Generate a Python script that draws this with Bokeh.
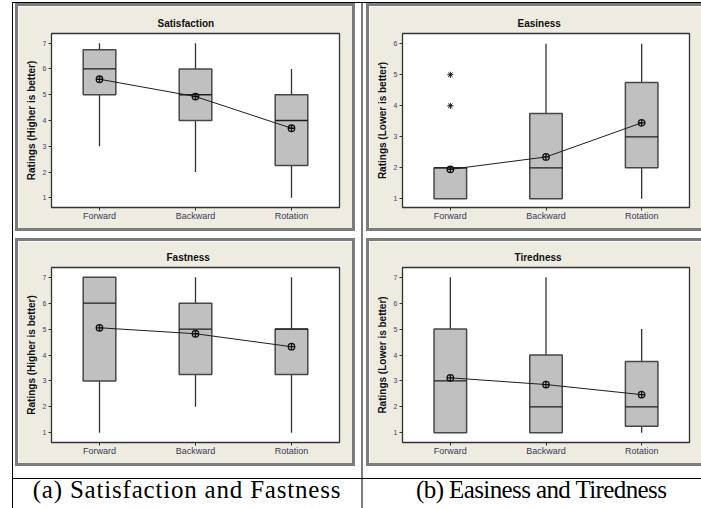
from bokeh.plotting import figure
from bokeh.models import ColumnDataSource, FixedTicker, Div, Spacer, Range1d
from bokeh.layouts import row, column
from bokeh.embed import file_html
from bokeh.resources import INLINE

categories = ["Forward", "Backward", "Rotation"]

sat_low = [3, 2, 1]
sat_q1 = [5, 4, 2.25]
sat_med = [6, 5, 4]
sat_q3 = [6.75, 6, 5]
sat_high = [7, 7, 6]
sat_mean = [5.6, 4.93, 3.7]

eas_low = [1, 1, 1]
eas_q1 = [1, 1, 2]
eas_med = [2, 2, 3]
eas_q3 = [2, 3.75, 4.75]
eas_high = [2, 6, 6]
eas_mean = [1.95, 2.35, 3.45]
eas_outlier_cat = ["Forward", "Forward"]
eas_outlier_val = [4, 5]

fas_low = [1, 2, 1]
fas_q1 = [3, 3.25, 3.25]
fas_med = [6, 5, 5]
fas_q3 = [7, 6, 5]
fas_high = [7, 7, 7]
fas_mean = [5.05, 4.82, 4.32]

tir_low = [1, 1, 1]
tir_q1 = [1, 1, 1.25]
tir_med = [3, 2, 2]
tir_q3 = [5, 4, 3.75]
tir_high = [7, 7, 5]
tir_mean = [3.12, 2.86, 2.47]

ticks_1_7 = [1, 2, 3, 4, 5, 6, 7]
ticks_1_6 = [1, 2, 3, 4, 5, 6]

titles = ["Satisfaction", "Easiness", "Fastness", "Tiredness"]
ylabels = ["Ratings (Higher is better)", "Ratings (Lower is better)",
           "Ratings (Higher is better)", "Ratings (Lower is better)"]
captions = ["(a) Satisfaction and Fastness", "(b) Easiness and Tiredness"]

BEIGE = "#EEEBE1"
FRAME = "#7c7c7c"
SANS = "Liberation Sans"


def panel(title, ylabel, low, q1, med, q3, high, mean, ticks, y0, y1,
          w, h, bl, br, bt, bb, title_off, out_cat=None, out_val=None):
    p = figure(x_range=categories, y_range=Range1d(y0, y1), width=w, height=h,
               output_backend="svg", toolbar_location=None,
               min_border_left=bl, min_border_right=br,
               min_border_top=bt, min_border_bottom=bb,
               background_fill_color="white", border_fill_color=BEIGE,
               outline_line_color="#333333", outline_line_width=1.3,
               title=title)
    p.title.align = "left"
    p.title.offset = title_off
    p.title.standoff = 9
    p.title.text_font = SANS
    p.title.text_font_size = "10px"
    p.title.text_font_style = "bold"
    p.title.text_color = "#111111"

    src = ColumnDataSource(dict(
        cat=categories, low=low, q1=q1, med=med, q3=q3, high=high, mean=mean,
        ml=[(c, -0.17) for c in categories], mr=[(c, 0.17) for c in categories]))

    p.segment(x0="cat", y0="low", x1="cat", y1="q1", source=src,
              line_color="#333333", line_width=1.3)
    p.segment(x0="cat", y0="q3", x1="cat", y1="high", source=src,
              line_color="#333333", line_width=1.3)
    p.vbar(x="cat", width=0.34, bottom="q1", top="q3", source=src,
           fill_color="#C0C0C0", line_color="#474747", line_width=1.5)
    p.segment(x0="ml", y0="med", x1="mr", y1="med", source=src,
              line_color="#1e1e1e", line_width=1.3)
    p.line(x="cat", y="mean", source=src, line_color="#1e1e1e", line_width=1)
    p.scatter(x="cat", y="mean", source=src, marker="circle_cross", size=6.5,
              fill_color=None, line_color="#111111", line_width=1.3)
    if out_cat is not None:
        p.scatter(x=out_cat, y=out_val, marker="asterisk", size=6,
                  line_color="#111111", line_width=1)

    p.grid.visible = False
    for ax in (p.xaxis, p.yaxis):
        ax.axis_line_color = None
        ax.major_tick_line_color = "#333333"
        ax.major_tick_in = 0
        ax.major_tick_out = 3
        ax.minor_tick_line_color = None
    p.xaxis.major_label_text_font = SANS
    p.xaxis.major_label_text_font_size = "9px"
    p.xaxis.major_label_text_color = "#3a3a55"
    p.xaxis.major_label_standoff = 0
    p.yaxis.ticker = FixedTicker(ticks=ticks)
    p.yaxis.major_label_text_font = SANS
    p.yaxis.major_label_text_font_size = "7px"
    p.yaxis.major_label_text_color = "#404070"
    p.yaxis.major_label_standoff = 2
    p.yaxis.axis_label = ylabel
    p.yaxis.axis_label_text_font = SANS
    p.yaxis.axis_label_text_font_size = "10px"
    p.yaxis.axis_label_text_font_style = "bold"
    p.yaxis.axis_label_text_color = "#111111"
    p.yaxis.axis_label_standoff = 3
    return p


def sp(w, h):
    return Spacer(width=w, height=h)


def ln(w, h, color):
    return Div(text="", width=w, height=h, margin=0,
               styles={"background-color": color})


def framed(fig, w, h, right=True):
    kids = [ln(3, h - 6, FRAME), fig]
    if right:
        kids.append(ln(3, h - 6, FRAME))
    return column(ln(w, 3, FRAME), row(kids), ln(w, 3, FRAME))


p1 = panel(titles[0], ylabels[0], sat_low, sat_q1, sat_med, sat_q3, sat_high, sat_mean,
           ticks_1_7, 0.624, 7.376, 334, 222, 33, 13, 27, 21, 106)
p2 = panel(titles[1], ylabels[1], eas_low, eas_q1, eas_med, eas_q3, eas_high, eas_mean,
           ticks_1_6, 0.72, 6.33, 332, 222, 33, 12, 27, 21, 115,
           eas_outlier_cat, eas_outlier_val)
p3 = panel(titles[2], ylabels[2], fas_low, fas_q1, fas_med, fas_q3, fas_high, fas_mean,
           ticks_1_7, 0.625, 7.375, 334, 222, 33, 13, 26, 21, 115)
p4 = panel(titles[3], ylabels[3], tir_low, tir_q1, tir_med, tir_q3, tir_high, tir_mean,
           ticks_1_7, 0.625, 7.375, 332, 222, 33, 12, 26, 21, 112)

col1 = column(framed(p1, 340, 228), sp(340, 7), framed(p3, 340, 228), sp(340, 12))
col2 = column(framed(p2, 335, 228, False), sp(335, 7), framed(p4, 335, 228, False), sp(335, 12))

row0 = row(sp(12, 1), ln(689, 1, "black"))
rowA = row(sp(12, 475), ln(1, 475, "black"), sp(2, 475), col1, sp(6, 475),
           ln(2, 475, FRAME), sp(3, 475), col2)
rowB = row(sp(12, 1), ln(689, 1, "black"))


def caption(text, w, extra):
    html = ('<div style="font-family: \'Liberation Serif\', serif; font-size: 25px; '
            'line-height: 21px; text-align: center; white-space: nowrap; color: black; '
            'display: block; ' + extra + '">' + text + '</div>')
    return Div(text=html, width=w, height=29, margin=0,
               styles={"overflow": "visible"})


cap1 = caption(captions[0], 348, "width: 348px; letter-spacing: 0.8px;")
cap2 = caption(captions[1], 338, "width: 285px; padding-left: 53px; letter-spacing: -0.6px;")
rowC = row(sp(12, 29), ln(1, 29, "black"), cap1, ln(2, 29, FRAME), cap2)

layout = column(sp(701, 2), row0, rowA, rowB, rowC)

open("out.html", "w").write(file_html(layout, INLINE))
